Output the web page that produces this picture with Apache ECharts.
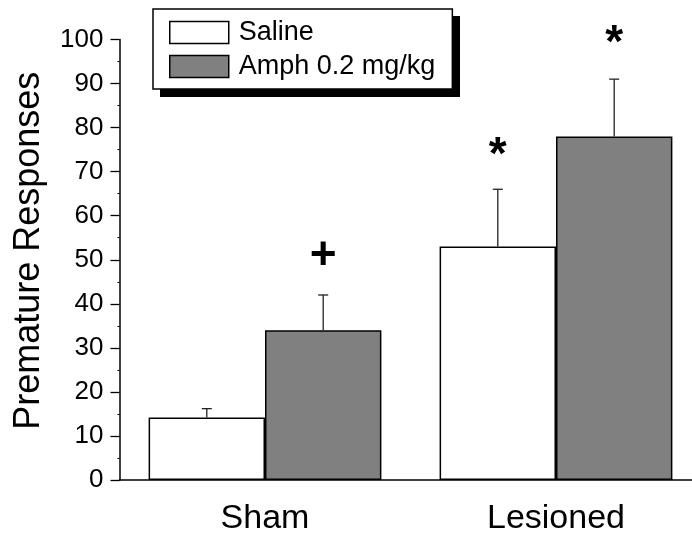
<!DOCTYPE html>
<html>
<head>
<meta charset="utf-8">
<script src="https://cdn.jsdelivr.net/npm/echarts@6/dist/echarts.min.js"></script>
<style>
html,body{margin:0;padding:0;background:#fff;}
#chart{width:692px;height:536px;}
</style>
</head>
<body>
<div id="chart"></div>
<script>
var categories = ['Sham', 'Lesioned'];
var seriesNames = ['Saline', 'Amph 0.2 mg/kg'];
var salineValues = [14.2, 53];
var amphValues = [34, 78];
var salineErrors = [2, 13];
var amphErrors = [8, 13];
var salineMarks = ['', '*'];
var amphMarks = ['+', '*'];
var salineMarkLevels = [null, 73.5];
var amphMarkLevels = [50.8, 99];
var yTicks = [0, 10, 20, 30, 40, 50, 60, 70, 80, 90, 100];

var FONT = 'Liberation Sans, Arial, Helvetica, sans-serif';
var CAT_GAP = 0.2;

function errData(values, errors, marks, levels) {
  return values.map(function (v, i) {
    return [i, v + errors[i], v, levels[i] == null ? -1 : levels[i], marks[i]];
  });
}

function makeErrRender(side) {
  return function (params, api) {
    var idx = api.value(0);
    var top = api.coord([idx, api.value(1)]);
    var base = api.coord([idx, api.value(2)]);
    var band = api.size([1, 0])[0];
    var barW = band * (1 - CAT_GAP) / 2;
    var x = top[0] + side * barW / 2;
    var cap = 5;
    var children = [
      { type: 'line', shape: { x1: x, y1: base[1], x2: x, y2: top[1] }, style: { stroke: '#222', lineWidth: 1.3 } },
      { type: 'line', shape: { x1: x - cap, y1: top[1], x2: x + cap, y2: top[1] }, style: { stroke: '#222', lineWidth: 1.3 } }
    ];
    var mark = api.value(4);
    var lvl = api.value(3);
    if (mark && lvl >= 0) {
      var mp = api.coord([idx, lvl]);
      children.push({
        type: 'text',
        style: {
          text: mark, x: x, y: mp[1],
          font: 'bold 46px ' + FONT,
          fill: '#000', align: 'center', verticalAlign: 'middle'
        }
      });
    }
    return { type: 'group', children: children };
  };
}

var chart = echarts.init(document.getElementById('chart'));
chart.setOption({
  animation: false,
  backgroundColor: '#fff',
  grid: { left: 119.5, width: 582, top: 39.5, bottom: 56, containLabel: false, outerBoundsMode: 'none' },
  graphic: [
    { type: 'rect', left: 160, top: 16, z: 1, shape: { width: 300, height: 81 }, style: { fill: '#000' } }
  ],
  legend: {
    left: 153, top: 9, z: 3,
    orient: 'vertical',
    data: seriesNames,
    itemWidth: 59, itemHeight: 22, itemGap: 7,
    padding: [10, 17, 9, 16],
    backgroundColor: '#fff',
    borderColor: '#000', borderWidth: 1.5,
    icon: 'rect',
    selectedMode: false,
    itemStyle: { borderColor: '#000', borderWidth: 1.5 },
    textStyle: { fontFamily: FONT, fontSize: 27, color: '#000', padding: [0, 0, 0, 5], lineHeight: 27 }
  },
  xAxis: {
    type: 'category',
    data: categories,
    axisLine: { lineStyle: { color: '#000', width: 1.5 } },
    axisTick: { show: false },
    axisLabel: { fontFamily: FONT, fontSize: 34, color: '#000', margin: 22 }
  },
  yAxis: {
    type: 'value',
    min: 0, max: 100, interval: 10,
    name: 'Premature Responses',
    nameLocation: 'middle',
    nameGap: 72,
    nameTextStyle: { fontFamily: FONT, fontSize: 36, color: '#000', padding: [0, 0, 0, 18] },
    axisLine: { show: true, lineStyle: { color: '#000', width: 1.5 } },
    axisTick: { show: true, length: 9, lineStyle: { color: '#000', width: 1.3 } },
    minorTick: { show: true, splitNumber: 2, length: 2, lineStyle: { color: '#000', width: 1 } },
    splitLine: { show: false },
    axisLabel: { fontFamily: FONT, fontSize: 26, color: '#000', margin: 16,
      formatter: function (v) { return yTicks.indexOf(v) >= 0 ? String(v) : ''; } }
  },
  series: [
    {
      name: seriesNames[0], type: 'bar', data: salineValues,
      barGap: '0%', barCategoryGap: (CAT_GAP * 100) + '%',
      itemStyle: { color: '#fff', borderColor: '#000', borderWidth: 1.5 }
    },
    {
      name: seriesNames[1], type: 'bar', data: amphValues,
      barGap: '0%', barCategoryGap: (CAT_GAP * 100) + '%',
      itemStyle: { color: '#808080', borderColor: '#000', borderWidth: 1.5 }
    },
    {
      type: 'custom', clip: false, z: 5,
      renderItem: makeErrRender(-1),
      encode: { x: 0, y: 1 },
      data: errData(salineValues, salineErrors, salineMarks, salineMarkLevels)
    },
    {
      type: 'custom', clip: false, z: 5,
      renderItem: makeErrRender(1),
      encode: { x: 0, y: 1 },
      data: errData(amphValues, amphErrors, amphMarks, amphMarkLevels)
    }
  ]
});
</script>
</body>
</html>
